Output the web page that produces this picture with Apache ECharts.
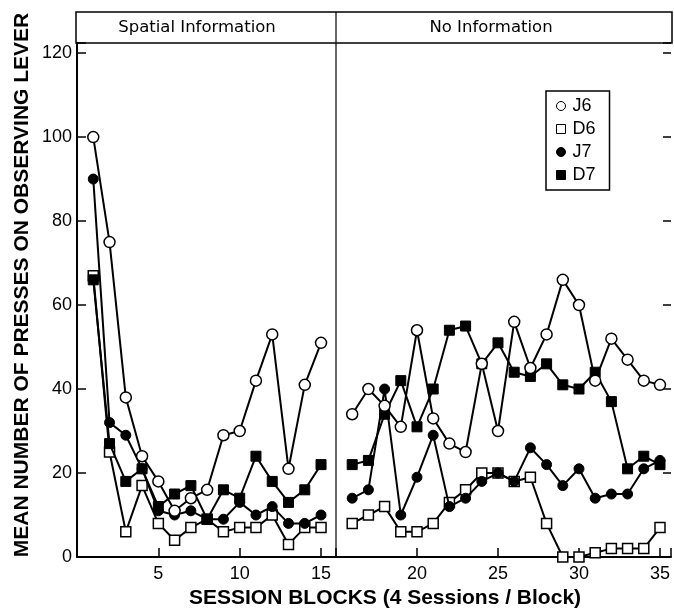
<!DOCTYPE html>
<html><head><meta charset="utf-8">
<script src="https://cdn.jsdelivr.net/npm/echarts@6/dist/echarts.min.js"></script>
<style>html,body{margin:0;padding:0;background:#fff}#c{width:674px;height:610px}</style>
</head><body><div id="c"></div>
<script>
// Left panel: Spatial Information (blocks 1-15)
var blocksLeft = [1,2,3,4,5,6,7,8,9,10,11,12,13,14,15];
var J6_left = [100,75,38,24,18,11,14,16,29,30,42,53,21,41,51];
var D6_left = [67,25,6,17,8,4,7,9,6,7,7,10,3,7,7];
var J7_left = [90,32,29,21,11,10,11,9,9,13,10,12,8,8,10];
var D7_left = [66,27,18,21,12,15,17,9,16,14,24,18,13,16,22];
// Right panel: No Information (blocks 16-35)
var blocksRight = [16,17,18,19,20,21,22,23,24,25,26,27,28,29,30,31,32,33,34,35];
var J6_right = [34,40,36,31,54,33,27,25,46,30,56,45,53,66,60,42,52,47,42,41];
var D6_right = [8,10,12,6,6,8,13,16,20,20,18,19,8,0,0,1,2,2,2,7];
var J7_right = [14,16,40,10,19,29,12,14,18,20,18,26,22,17,21,14,15,15,21,23];
var D7_right = [22,23,34,42,31,40,54,55,46,51,44,43,46,41,40,44,37,21,24,22];
var yTicks = [0,20,40,60,80,100,120];
var xTicksLeft = [5,10,15];
var xTicksRight = [20,25,30,35];
var panelTitles = ['Spatial Information','No Information'];
var seriesNames = ['J6','D6','J7','D7'];

function pairs(xs, ys){ return xs.map(function(x,i){ return [x, ys[i]]; }); }

var styles = {
  J6: {symbol:'circle', symbolSize:11, itemStyle:{color:'#fff', borderColor:'#000', borderWidth:1.5}},
  D6: {symbol:'rect', symbolSize:10, itemStyle:{color:'#fff', borderColor:'#000', borderWidth:1.5}},
  J7: {symbol:'circle', symbolSize:10, itemStyle:{color:'#000', borderColor:'#000', borderWidth:1}},
  D7: {symbol:'rect', symbolSize:10, itemStyle:{color:'#000', borderColor:'#000', borderWidth:1}}
};
var leftData = {J6:J6_left, D6:D6_left, J7:J7_left, D7:D7_left};
var rightData = {J6:J6_right, D6:D6_right, J7:J7_right, D7:D7_right};
var zOrder = {D6:2, D7:3, J7:4, J6:5};

var series = [];
['D6','D7','J7','J6'].forEach(function(n){
  [[0, blocksLeft, leftData], [1, blocksRight, rightData]].forEach(function(p){
    series.push({
      name:n, type:'line', xAxisIndex:p[0], yAxisIndex:p[0],
      data: pairs(p[1], p[2][n]),
      symbol: styles[n].symbol, symbolSize: styles[n].symbolSize,
      itemStyle: styles[n].itemStyle,
      lineStyle:{color:'#000', width:2},
      z: zOrder[n], animation:false, showAllSymbol:true
    });
  });
});

var FONT = 'Liberation Sans';
function xFmt(list){ return function(v){ return list.indexOf(Math.round(v*1000)/1000) >= 0 ? String(v) : ''; }; }

var commonX = {
  type:'value', interval:5,
  axisLine:{show:true, lineStyle:{color:'#000', width:2}},
  axisTick:{show:true, inside:true, length:9, lineStyle:{color:'#000', width:1.5}},
  splitLine:{show:false},
  axisLabel:{color:'#000', fontFamily:FONT, fontSize:18, margin:8, showMaxLabel:true}
};
var option = {
  animation:false,
  backgroundColor:'#fff',
  grid:[
    {left:77, right:338, top:43, bottom:53},
    {left:336, right:2, top:43, bottom:53}
  ],
  xAxis:[
    Object.assign({}, commonX, {gridIndex:0, min:0, max:15.92, axisLabel:Object.assign({}, commonX.axisLabel, {formatter:xFmt(xTicksLeft)})}),
    Object.assign({}, commonX, {gridIndex:1, min:15, max:35.68, axisLabel:Object.assign({}, commonX.axisLabel, {formatter:xFmt(xTicksRight)})})
  ],
  yAxis:[
    {gridIndex:0, type:'value', min:0, max:122.4, interval:20,
     axisLine:{show:true, lineStyle:{color:'#000', width:2}},
     axisTick:{show:true, inside:true, length:9, lineStyle:{color:'#000', width:1.5}},
     splitLine:{show:false},
     axisLabel:{color:'#000', fontFamily:FONT, fontSize:18, margin:5,
       formatter:function(v){ return yTicks.indexOf(v) >= 0 ? String(v) : ''; }}},
    {gridIndex:1, type:'value', min:0, max:122.4, interval:20, position:'right',
     axisLine:{show:false},
     axisTick:{show:true, inside:true, length:8, lineStyle:{color:'#000', width:1.5}},
     splitLine:{show:false},
     axisLabel:{show:false}}
  ],
  legend:{
    orient:'vertical', left:546, top:91,
    data: seriesNames.map(function(n){
      return {name:n, icon: styles[n].symbol === 'circle' ? 'circle' : 'rect',
        itemStyle:{color:styles[n].itemStyle.color, borderColor:'#000', borderWidth:1}};
    }),
    itemWidth:9, itemHeight:9, itemGap:5,
    borderColor:'#000', borderWidth:1.5, padding:[6,14,6,10],
    textStyle:{color:'#000', fontFamily:FONT, fontSize:18, padding:[0,0,0,2]},
    selectedMode:false
  },
  graphic:[
    {type:'rect', shape:{x:76, y:12, width:596, height:31}, style:{fill:'none', stroke:'#000', lineWidth:1.5}, z:10},
    {type:'line', shape:{x1:336, y1:12, x2:336, y2:557}, style:{stroke:'#000', lineWidth:1.2}, z:10},
    {type:'text', x:197, y:28, style:{text:panelTitles[0], align:'center', verticalAlign:'middle', font:'16.5px "DejaVu Sans"', fill:'#000'}},
    {type:'text', x:491, y:28, style:{text:panelTitles[1], align:'center', verticalAlign:'middle', font:'16.5px "DejaVu Sans"', fill:'#000'}},
    {type:'text', rotation:Math.PI/2, x:22, y:285, style:{text:'MEAN NUMBER OF PRESSES ON OBSERVING LEVER', align:'center', verticalAlign:'middle', font:'bold 21px "Liberation Sans"', fill:'#000'}},
    {type:'text', x:385, y:598, style:{text:'SESSION BLOCKS (4 Sessions / Block)', align:'center', verticalAlign:'middle', font:'bold 21px "Liberation Sans"', fill:'#000'}}
  ],
  series: series
};
var chart = echarts.init(document.getElementById('c'), null, {renderer:'canvas'});
chart.setOption(option);
</script></body></html>
